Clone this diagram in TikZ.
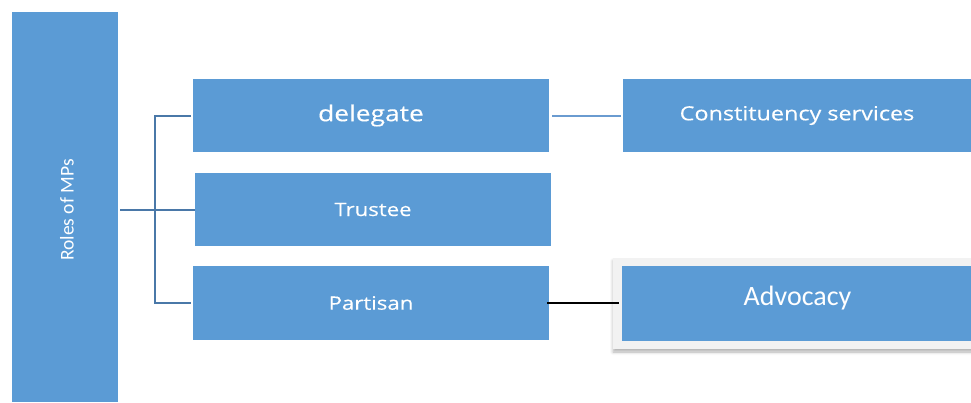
\documentclass[tikz,border=0pt]{standalone}
\usepackage{fontspec}
\usetikzlibrary{shadows.blur}
\newfontfamily\segoe[FakeStretch=1.2,FakeBold=0.3]{Open Sans}
\newfontfamily\calib{Carlito}
\definecolor{boxblue}{HTML}{5B9BD5}
\definecolor{connblue}{HTML}{4A78A8}
\definecolor{lightconn}{HTML}{6A9BD0}
\definecolor{framegray}{HTML}{F2F2F2}
\tikzset{
  bluebox/.style={rectangle, fill=boxblue, text=white, inner sep=0pt, outer sep=0pt},
  conn/.style={draw=connblue, line width=2pt},
  lconn/.style={draw=lightconn, line width=2pt},
  bconn/.style={draw=black, line width=2pt},
}
\begin{document}
\begin{tikzpicture}[x=1pt,y=-1pt]
\useasboundingbox (0,0) rectangle (971,402);
% left tall box
\node[bluebox, minimum width=106pt, minimum height=390pt] (roles) at (65,207) {};
\node[text=white, inner sep=0pt] (rolestext) at (67,210)
  {\rotatebox{90}{\calib\fontsize{19.5}{21}\selectfont Roles of MPs}};
% middle column
\node[bluebox, minimum width=356pt, minimum height=73pt] (delegate) at (371,115.5)
  {\segoe\fontsize{22}{24}\selectfont delegate};
\node[bluebox, minimum width=356pt, minimum height=73pt] (trustee) at (373,209.5)
  {\segoe\fontsize{18.5}{20}\selectfont Trustee};
\node[bluebox, minimum width=356pt, minimum height=74pt] (partisan) at (371,303)
  {\segoe\fontsize{18.5}{20}\selectfont Partisan};
% right column
\node[bluebox, minimum width=348pt, minimum height=73pt] (constituency) at (797,115.5)
  {\segoe\fontsize{19.5}{21}\selectfont Constituency services};
\node[rectangle, fill=framegray, inner sep=0pt, minimum width=364pt, minimum height=91pt,
  blur shadow={shadow xshift=0pt, shadow yshift=-3pt, shadow blur radius=3pt, shadow opacity=30}]
  (advframe) at (795,303.5) {};
\node[bluebox, minimum width=349pt, minimum height=75pt] (advocacy) at (796.5,303.5) {};
\node[text=white, inner sep=0pt] (advtext) at (797.5,298)
  {\calib\fontsize{28}{30}\selectfont Advocacy};
% connectors
\coordinate (bus) at (155,209.5);
\draw[conn, shorten <=2pt] (roles.east |- trustee.west) -- (trustee.west);
\draw[conn, shorten <=2pt, shorten >=2pt] (delegate.west) -| (bus) |- (partisan.west);
\draw[lconn, shorten <=3pt, shorten >=2pt] (delegate.east) -- (constituency.west);
\draw[bconn, shorten <=-2pt, shorten >=3pt] (partisan.east) -- (advocacy.west |- partisan.east);
\end{tikzpicture}
\end{document}
